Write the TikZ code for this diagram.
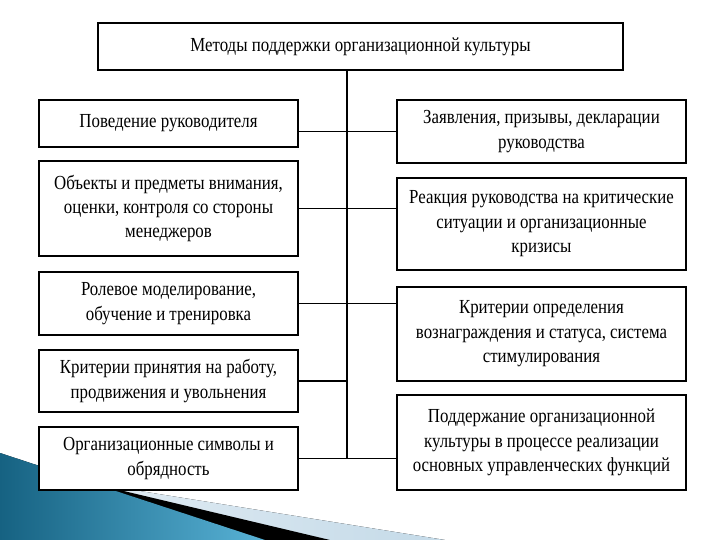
\documentclass[tikz,border=0pt]{standalone}
\usepackage{fontspec}
\setmainfont{Liberation Serif}[FakeStretch=0.845]
\definecolor{stripelight}{RGB}{196,218,232}
\definecolor{stripepale}{RGB}{232,240,246}
\definecolor{bluedark}{RGB}{22,98,130}
\definecolor{bluelight}{RGB}{88,178,214}
\begin{document}
\begin{tikzpicture}[x=1bp,y=-1bp,
  box/.style={draw=black, line width=1.7bp, fill=white, rectangle, inner sep=0pt,
    align=center, font=\fontsize{20}{24.5}\selectfont},
  lbox/.style={box, minimum width=259bp},
  rbox/.style={box, minimum width=289bp},
  conn/.style={draw=black, line width=1.3bp}]
\useasboundingbox (0,0) rectangle (720,540);
\fill[white] (0,0) rectangle (720,540);
% decorative corner
\fill[left color=stripepale, right color=stripelight]
  (90,483) -- (445,540) -- (0,540) -- cycle;
\fill[black] (90,483) -- (330,540) -- (0,540) -- cycle;
\fill[left color=bluedark, right color=bluelight]
  (0,453) -- (265,540) -- (0,540) -- cycle;
% boxes
\node[box, minimum width=525bp, minimum height=47bp] (top) at (360.5,46.5)
  {Методы поддержки организационной культуры};
\node[lbox, minimum height=47bp] (L1) at (168.5,123.5) {Поведение руководителя};
\node[lbox, minimum height=95bp] (L2) at (168.5,208.5)
  {Объекты и предметы внимания,\\оценки, контроля со стороны\\менеджеров};
\node[lbox, minimum height=63bp] (L3) at (168.5,303.5)
  {Ролевое моделирование,\\обучение и тренировка};
\node[lbox, minimum height=62bp] (L4) at (168.5,381)
  {Критерии принятия на работу,\\продвижения и увольнения};
\node[lbox, minimum height=63bp] (L5) at (168.5,458.5)
  {Организационные символы и\\обрядность};
\node[rbox, minimum height=63bp] (R1) at (541.5,131.5)
  {Заявления, призывы, декларации\\руководства};
\node[rbox, minimum height=92bp] (R2) at (541.5,224)
  {Реакция руководства на критические\\ситуации и организационные\\кризисы};
\node[rbox, minimum height=94bp] (R3) at (541.5,334)
  {Критерии определения\\вознаграждения и статуса, система\\стимулирования};
\node[rbox, minimum height=95bp] (R4) at (541.5,442.5)
  {Поддержание организационной\\культуры в процессе реализации\\основных управленческих функций};
% connectors
\coordinate (tt) at (347,70);
\draw[conn] (tt) -- (tt |- L5.east);
\draw[conn] (L1.east |- R1.west) -- (R1.west);
\draw[conn] (L2.east) -- (L2.east -| R2.west);
\draw[conn] (L3.east) -- (L3.east -| R3.west);
\draw[conn] (L4.east) -- (L4.east -| tt);
\draw[conn] (L5.east) -- (L5.east -| R4.west);
\end{tikzpicture}
\end{document}
